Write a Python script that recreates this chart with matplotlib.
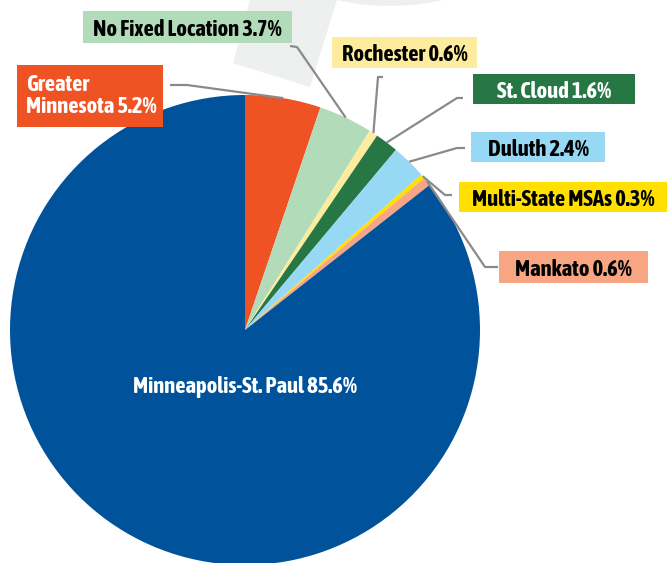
import matplotlib
matplotlib.use("Agg")
import matplotlib.pyplot as plt
import numpy as np
from matplotlib.patches import Rectangle, Polygon, Ellipse

categories = ["Greater\nMinnesota", "No Fixed Location", "Rochester", "St. Cloud",
              "Duluth", "Multi-State MSAs", "Mankato", "Minneapolis-St. Paul"]
values = [5.2, 3.7, 0.6, 1.6, 2.4, 0.3, 0.6, 85.6]
colors = ["#F05323", "#B2DBBA", "#FDEC9D", "#267744", "#97D8F4", "#FFE000", "#F7A583", "#00539B"]
text_colors = ["white", "black", "black", "white", "black", "black", "black", "white"]

W, H = 668, 563
fig = plt.figure(figsize=(W / 100, H / 100), dpi=100)
ax = fig.add_axes([0, 0, 1, 1])

FONT = ["Asap Condensed", "DejaVu Sans"]
FS = 16.3
FW = 700

def Y(y):
    return H - y

cx, cy, r = 245, Y(330), 235
wedges, _ = ax.pie(values, colors=colors, startangle=90, counterclock=False,
                   center=(cx, cy), radius=r, frame=True,
                   wedgeprops=dict(linewidth=0))
ax.set_xlim(0, W)
ax.set_ylim(0, H)
ax.set_aspect("equal")
ax.axis("off")

# faint background watermark
ax.add_patch(Polygon([(250, Y(0)), (337, Y(0)), (310, Y(87)), (233, Y(63))],
                     closed=True, facecolor="#EEF0EF", edgecolor="none", zorder=0))
ax.add_patch(Ellipse((390, Y(-54)), 244, 120, facecolor="#EEF0EF", edgecolor="none", zorder=0))

# label boxes (layout): x0, y0(top), x1, y1(bottom), elbow points
boxes = [
    (17, 65, 163, 127),
    (83, 11, 292, 43),
    (332, 37, 477, 68),
    (473, 74, 635, 104),
    (471, 132, 605, 162),
    (459, 182, 667, 212),
    (499, 251, 648, 283),
]
elbows = [
    [(170, 85), (187, 85)],
    [(290, 46), (297, 47)],
    [(383, 77), (378, 77)],
    [(463, 98), (457, 98)],
    [(465, 148), (457, 148)],
    [(452, 195), (445, 195)],
    [(498, 267), (485, 267)],
]

total = sum(values)
cum = 0
for i, v in enumerate(values):
    mid = 90 - (cum + v / 2) / total * 360
    cum += v
    if i >= len(boxes):
        continue
    x0, y0, x1, y1 = boxes[i]
    ax.add_patch(Rectangle((x0, Y(y1)), x1 - x0, y1 - y0, facecolor=colors[i],
                           edgecolor="none", zorder=3))
    label = f"{categories[i]} {v}%"
    if i == 0:
        ax.text(x0 + 9, Y((y0 + y1) / 2), label, ha="left", va="center",
                color=text_colors[i], fontsize=FS, fontweight=FW,
                family=FONT, linespacing=1.05, zorder=4)
    else:
        ax.text((x0 + x1) / 2, Y((y0 + y1) / 2), label, ha="center", va="center_baseline",
                color=text_colors[i], fontsize=FS, fontweight=FW,
                family=FONT, zorder=4)
    ex = cx + r * np.cos(np.radians(mid))
    ey = cy + r * np.sin(np.radians(mid))
    pts = [(px, Y(py)) for px, py in elbows[i]] + [(ex, ey)]
    xs, ys = zip(*pts)
    ax.plot(xs, ys, color="#8A8A8A", lw=1.6, zorder=2, solid_capstyle="butt")

ax.text(245, Y(385), f"{categories[-1]} {values[-1]}%", ha="center", va="center_baseline",
        color="white", fontsize=FS, fontweight=FW, family=FONT, zorder=4)

fig.savefig("out.png", dpi=100)
